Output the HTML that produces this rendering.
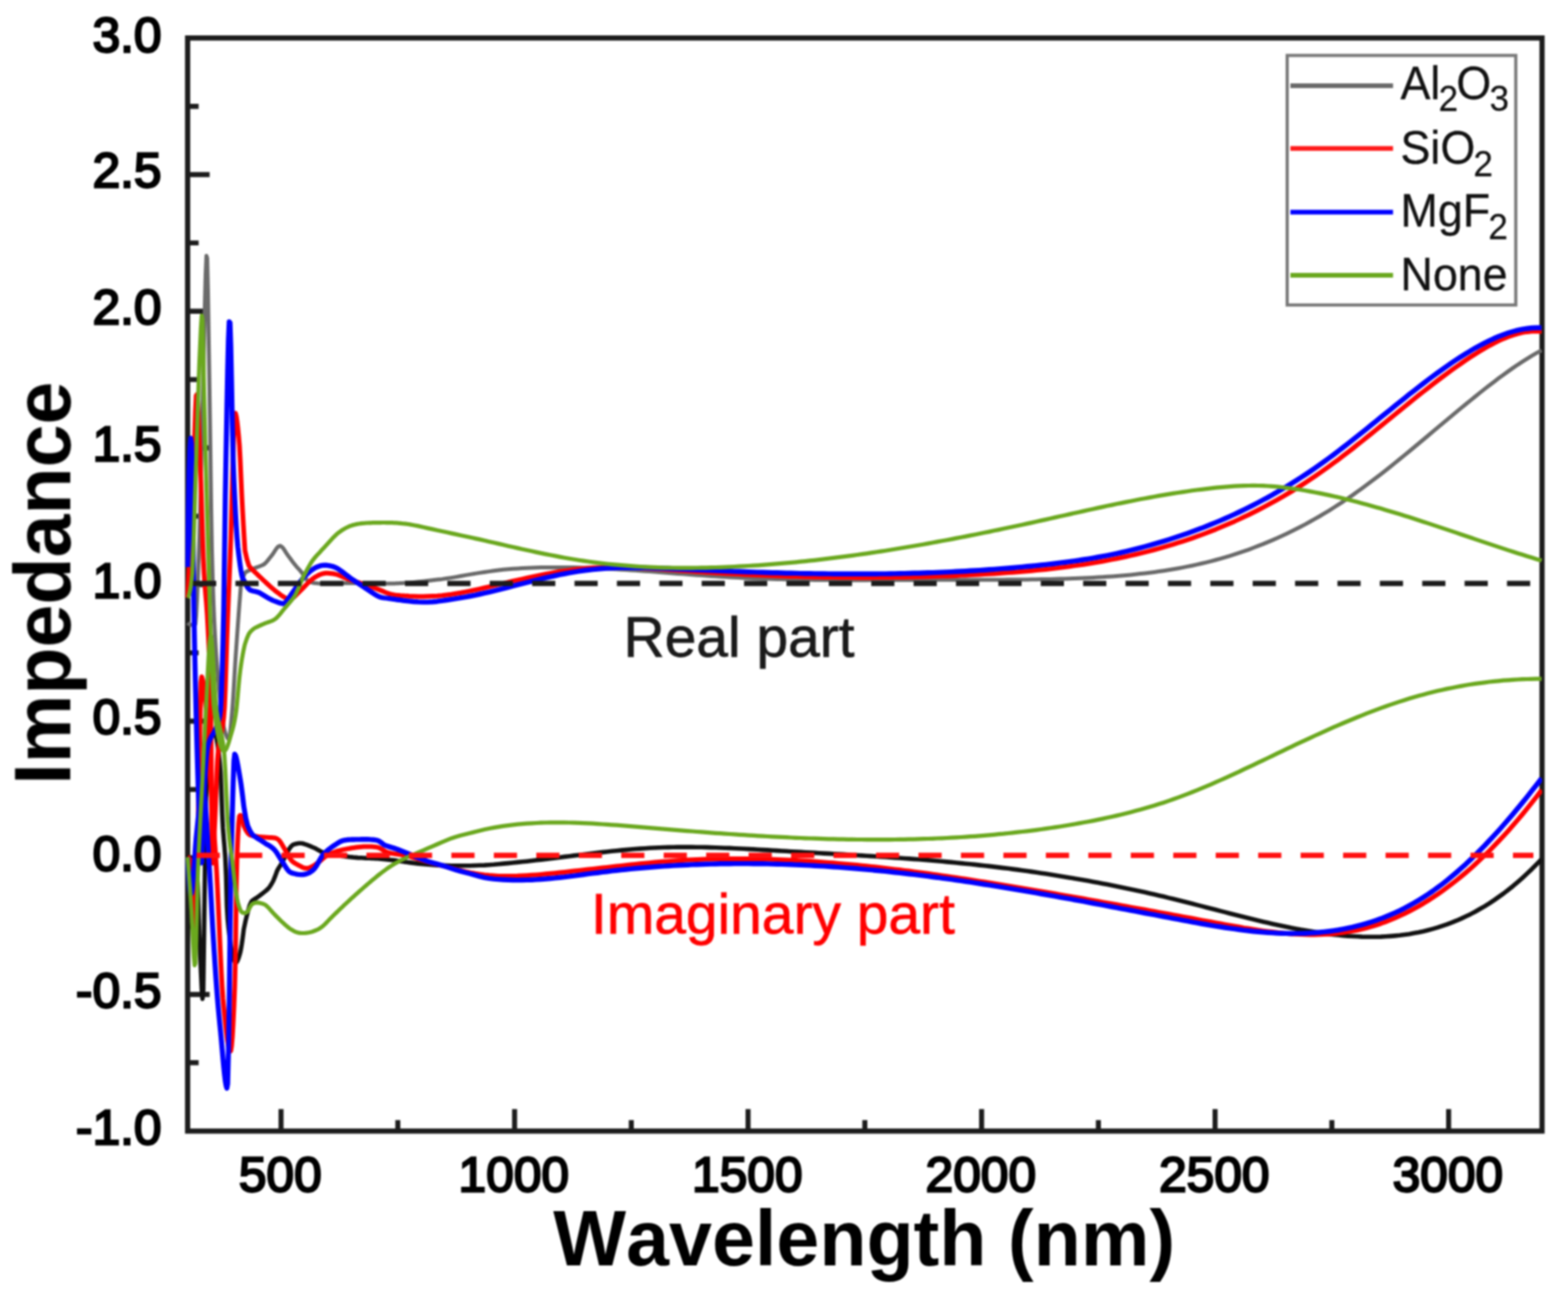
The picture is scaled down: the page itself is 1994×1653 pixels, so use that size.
<!DOCTYPE html>
<html lang="en"><head><meta charset="utf-8"><title>Impedance vs Wavelength</title>
<style>
html,body{margin:0;padding:0;background:#fff;}
body{width:1994px;height:1653px;overflow:hidden;}
svg{display:block;}
text{font-family:"Liberation Sans",Arial,Helvetica,sans-serif;}
.tk{font-weight:normal;font-size:63.2px;fill:#000;stroke:#000;stroke-width:2.8px;stroke-linejoin:miter;}
.ax{font-weight:bold;fill:#000;font-kerning:none;}
.lg{font-size:57.0px;fill:#111;stroke:#111;stroke-width:0.3px;}
</style></head><body>
<svg width="1994" height="1653" viewBox="0 0 1994 1653" role="img" aria-label="Impedance versus wavelength">
<defs><filter id="b" x="-2%" y="-2%" width="104%" height="104%" color-interpolation-filters="sRGB"><feGaussianBlur stdDeviation="1.0"/></filter></defs>
<rect width="1994" height="1653" fill="#fff"/>
<g filter="url(#b)">
<rect x="238.6" y="48.3" width="1722.4" height="1389.9" fill="none" stroke="#1c1c1c" stroke-width="6.6"/>
<path d="M238.6 135.2 h14.0 M238.6 222.0 h28.0 M238.6 308.9 h14.0 M238.6 395.8 h28.0 M238.6 482.6 h14.0 M238.6 569.5 h28.0 M238.6 656.4 h14.0 M238.6 743.2 h28.0 M238.6 830.1 h14.0 M238.6 917.0 h28.0 M238.6 1003.9 h14.0 M238.6 1090.7 h28.0 M238.6 1177.6 h14.0 M238.6 1264.5 h28.0 M238.6 1351.3 h14.0 M357.4 1438.2 v-28.0 M654.4 1438.2 v-28.0 M951.3 1438.2 v-28.0 M1248.3 1438.2 v-28.0 M1545.2 1438.2 v-28.0 M1842.2 1438.2 v-28.0 M505.9 1438.2 v-14.0 M802.8 1438.2 v-14.0 M1099.8 1438.2 v-14.0 M1396.8 1438.2 v-14.0 M1693.7 1438.2 v-14.0" stroke="#1c1c1c" stroke-width="6.4" fill="none"/>
<clipPath id="cp"><rect x="235.6" y="48.3" width="1725.4" height="1389.9"/></clipPath>
<g fill="none" stroke-linejoin="round" stroke-linecap="butt" clip-path="url(#cp)">
<path d="M238.5 792.0L239.5 792.9L240.5 793.5L241.5 794.0L242.5 794.4L243.5 794.7L244.5 794.8L245.5 794.9L246.5 795.0L247.5 795.0L248.5 793.5L249.5 782.6L250.5 763.6L251.5 739.5L252.5 713.1L253.5 685.7L254.5 649.7L255.5 607.4L256.5 562.8L257.5 519.7L258.5 479.8L259.5 433.9L260.5 387.5L261.5 348.6L262.5 325.3L263.5 328.3L264.5 370.8L265.5 435.2L266.5 500.0L267.5 568.6L268.5 643.1L269.5 700.0L270.5 736.6L271.5 766.3L272.5 790.0L273.5 809.1L274.5 825.7L275.5 840.4L276.5 853.3L277.5 864.9L278.5 875.2L279.5 884.7L280.5 893.8L281.5 902.5L282.5 910.6L283.5 917.7L284.5 923.7L285.5 928.3L286.5 931.5L287.5 934.4L288.5 936.9L289.5 938.8L290.5 939.9L291.5 939.2L292.5 933.3L293.5 923.7L294.5 912.5L295.5 901.2L296.5 887.1L297.5 870.9L298.5 853.9L299.5 837.5L300.5 822.8L301.5 808.6L302.5 794.7L303.5 781.0L304.5 767.7L305.5 754.7L306.5 742.0L309.0 734.2L311.5 728.5L314.0 726.6L316.5 725.5L319.0 724.5L321.5 723.4L324.0 722.4L326.5 721.4L329.0 720.5L331.5 719.5L334.0 718.5L336.5 717.0L339.0 714.5L341.5 711.4L344.0 708.2L346.5 705.1L349.0 701.3L351.5 697.5L354.0 694.8L356.5 694.0L359.0 695.7L361.5 699.1L364.0 703.1L366.5 706.7L369.0 710.0L371.5 713.5L374.0 716.7L376.5 719.8L379.0 722.6L381.5 725.3L384.0 728.3L386.5 732.2L389.0 736.0L391.5 738.7L394.0 739.8L396.5 740.6L399.0 741.2L401.5 741.6L404.0 741.8L406.5 741.9L409.0 741.9L411.5 741.8L414.0 741.7L416.5 741.6L419.0 741.5L421.5 741.5L424.0 741.5L426.5 741.5L429.0 741.5L431.5 741.5L434.0 741.5L436.5 741.5L439.0 741.5L441.5 741.5L444.0 741.4L446.5 741.4L449.0 741.4L451.5 741.4L454.0 741.4L456.5 741.4L459.0 741.4L461.5 741.4L464.0 741.5L466.5 741.5L469.0 741.5L471.5 741.5L474.0 741.6L476.5 741.6L479.0 741.7L481.5 741.8L484.0 741.9L486.5 741.9L489.0 742.0L491.5 742.0L494.0 742.0L496.5 742.0L499.0 742.0L501.5 741.9L504.0 741.8L506.5 741.7L509.0 741.6L511.5 741.5L514.0 741.3L516.5 741.1L519.0 741.0L520.0 740.9L526.0 740.4L532.0 739.8L538.0 739.2L544.0 738.5L550.0 737.8L556.0 737.1L562.0 736.4L568.0 735.5L574.0 734.6L580.0 733.6L586.0 732.5L592.0 731.4L598.0 730.4L604.0 729.4L610.0 728.4L616.0 727.5L622.0 726.6L628.0 725.8L634.0 725.0L640.0 724.3L646.0 723.8L652.0 723.3L658.0 722.9L664.0 722.6L670.0 722.3L676.0 722.0L682.0 721.8L688.0 721.6L694.0 721.5L700.0 721.4L706.0 721.4L712.0 721.4L718.0 721.4L724.0 721.5L730.0 721.6L736.0 721.7L742.0 721.9L748.0 722.1L754.0 722.3L760.0 722.6L766.0 722.9L772.0 723.2L778.0 723.5L784.0 723.8L790.0 724.2L796.0 724.6L802.0 724.9L808.0 725.3L814.0 725.8L820.0 726.2L826.0 726.6L832.0 727.1L838.0 727.5L844.0 728.0L850.0 728.4L856.0 728.9L862.0 729.4L868.0 729.8L874.0 730.3L880.0 730.7L886.0 731.2L892.0 731.6L898.0 732.0L904.0 732.4L910.0 732.8L916.0 733.2L922.0 733.6L928.0 733.9L934.0 734.3L940.0 734.6L946.0 734.9L952.0 735.2L958.0 735.4L964.0 735.7L970.0 735.9L976.0 736.1L982.0 736.3L988.0 736.5L994.0 736.6L1000.0 736.8L1006.0 736.9L1012.0 737.0L1018.0 737.2L1024.0 737.3L1030.0 737.3L1036.0 737.4L1042.0 737.5L1048.0 737.5L1054.0 737.6L1060.0 737.6L1066.0 737.6L1072.0 737.7L1078.0 737.7L1084.0 737.7L1090.0 737.7L1096.0 737.7L1102.0 737.7L1108.0 737.6L1114.0 737.6L1120.0 737.6L1126.0 737.6L1132.0 737.5L1138.0 737.5L1144.0 737.5L1150.0 737.5L1156.0 737.4L1162.0 737.4L1168.0 737.4L1174.0 737.4L1180.0 737.3L1186.0 737.3L1192.0 737.3L1198.0 737.3L1204.0 737.3L1210.0 737.3L1216.0 737.3L1222.0 737.3L1228.0 737.3L1234.0 737.3L1240.0 737.3L1246.0 737.3L1252.0 737.2L1258.0 737.2L1264.0 737.2L1270.0 737.2L1276.0 737.2L1282.0 737.1L1288.0 737.1L1294.0 737.0L1300.0 737.0L1306.0 736.9L1312.0 736.8L1318.0 736.7L1324.0 736.6L1330.0 736.5L1336.0 736.4L1342.0 736.2L1348.0 736.1L1354.0 735.9L1360.0 735.7L1366.0 735.5L1372.0 735.2L1378.0 735.0L1384.0 734.7L1390.0 734.4L1396.0 734.1L1402.0 733.7L1408.0 733.3L1414.0 732.9L1420.0 732.5L1426.0 732.0L1432.0 731.5L1438.0 730.9L1444.0 730.3L1450.0 729.6L1456.0 728.9L1462.0 728.2L1468.0 727.4L1474.0 726.6L1480.0 725.7L1486.0 724.8L1492.0 723.8L1498.0 722.7L1504.0 721.6L1510.0 720.4L1516.0 719.2L1522.0 717.9L1528.0 716.5L1534.0 715.1L1540.0 713.6L1546.0 712.0L1552.0 710.3L1558.0 708.6L1564.0 706.8L1570.0 704.9L1576.0 702.9L1582.0 700.9L1588.0 698.8L1594.0 696.5L1600.0 694.2L1606.0 691.9L1612.0 689.4L1618.0 686.9L1624.0 684.2L1630.0 681.5L1636.0 678.7L1642.0 675.8L1648.0 672.8L1654.0 669.7L1660.0 666.6L1666.0 663.3L1672.0 659.9L1678.0 656.5L1684.0 652.9L1690.0 649.3L1696.0 645.5L1702.0 641.7L1708.0 637.8L1714.0 633.7L1720.0 629.6L1726.0 625.3L1732.0 621.0L1738.0 616.6L1744.0 612.1L1750.0 607.5L1756.0 602.9L1762.0 598.2L1768.0 593.5L1774.0 588.6L1780.0 583.8L1786.0 578.9L1792.0 574.0L1798.0 569.0L1804.0 564.0L1810.0 559.0L1816.0 554.0L1822.0 548.9L1828.0 543.9L1834.0 538.9L1840.0 533.9L1846.0 528.9L1852.0 523.9L1858.0 518.9L1864.0 514.0L1870.0 509.1L1876.0 504.2L1882.0 499.4L1888.0 494.6L1894.0 490.0L1900.0 485.4L1906.0 480.8L1912.0 476.4L1918.0 472.1L1924.0 467.9L1930.0 463.8L1936.0 459.9L1942.0 456.1L1948.0 452.4L1954.0 448.9L1960.0 445.6L1960.4 445.3" stroke="#6a6a6a" stroke-width="5.0"/>
<path d="M238.5 1090.0L239.5 1090.1L240.5 1090.2L241.5 1090.5L242.5 1091.0L243.5 1091.6L244.5 1092.4L245.5 1093.3L246.5 1094.4L247.5 1095.8L248.5 1097.3L249.5 1099.0L250.5 1103.9L251.5 1125.4L252.5 1156.8L253.5 1187.8L254.5 1211.1L255.5 1235.0L256.5 1256.6L257.5 1270.1L258.5 1259.0L259.5 1187.4L260.5 1111.4L261.5 1030.7L262.5 1001.6L263.5 986.2L264.5 973.0L265.5 961.7L266.5 952.2L267.5 944.6L268.5 938.7L269.5 934.3L270.5 931.5L271.5 930.2L272.5 930.2L273.5 931.9L274.5 935.1L275.5 939.7L276.5 945.6L277.5 952.8L278.5 961.0L279.5 970.1L280.5 982.4L281.5 1007.2L282.5 1034.4L283.5 1053.0L284.5 1065.6L285.5 1077.0L286.5 1090.9L287.5 1114.4L288.5 1151.9L289.5 1168.5L290.5 1178.7L291.5 1187.8L292.5 1195.9L293.5 1202.9L294.5 1209.0L295.5 1214.0L296.5 1217.9L297.5 1220.9L298.5 1222.9L299.5 1223.9L300.5 1223.8L301.5 1222.7L302.5 1220.5L303.5 1217.8L304.5 1214.6L305.5 1211.2L306.5 1206.4L307.5 1200.4L308.5 1193.4L309.5 1185.6L310.0 1181.5L312.5 1169.9L315.0 1160.0L317.5 1151.2L320.0 1146.0L322.5 1144.1L325.0 1142.4L327.5 1140.8L330.0 1139.0L332.5 1137.1L335.0 1135.1L337.5 1133.1L340.0 1131.0L342.5 1128.3L345.0 1124.5L347.5 1120.0L350.0 1113.9L352.5 1107.0L355.0 1102.7L357.5 1098.9L360.0 1094.3L362.5 1089.4L365.0 1084.4L367.5 1079.8L370.0 1076.3L372.5 1074.2L375.0 1073.3L377.5 1072.7L380.0 1072.3L382.5 1072.2L385.0 1072.5L387.5 1073.3L390.0 1074.2L392.5 1075.1L395.0 1076.1L397.5 1077.2L400.0 1078.3L402.5 1079.6L405.0 1081.0L407.5 1082.4L410.0 1083.6L412.5 1084.5L415.0 1085.3L417.5 1085.9L420.0 1086.4L422.5 1086.9L425.0 1087.3L427.5 1087.6L430.0 1087.9L432.5 1088.2L435.0 1088.5L437.5 1088.8L440.0 1089.1L442.5 1089.4L445.0 1089.7L447.5 1089.9L450.0 1090.2L452.5 1090.4L455.0 1090.6L457.5 1090.7L460.0 1090.8L462.5 1091.0L465.0 1091.1L467.5 1091.2L470.0 1091.3L472.5 1091.4L475.0 1091.5L477.5 1091.6L480.0 1091.8L482.5 1092.0L485.0 1092.2L487.5 1092.4L490.0 1092.7L492.5 1092.9L495.0 1093.2L497.5 1093.5L500.0 1093.8L502.5 1094.1L505.0 1094.5L507.5 1094.8L510.0 1095.2L512.5 1095.5L515.0 1095.9L517.5 1096.3L520.0 1096.6L526.0 1097.4L532.0 1098.1L538.0 1098.7L544.0 1099.3L550.0 1099.7L556.0 1100.1L562.0 1100.4L568.0 1100.6L574.0 1100.7L580.0 1100.8L586.0 1100.8L592.0 1100.8L598.0 1100.7L604.0 1100.5L610.0 1100.3L616.0 1100.1L622.0 1099.7L628.0 1099.3L634.0 1098.7L640.0 1098.1L646.0 1097.6L652.0 1097.0L658.0 1096.4L664.0 1095.8L670.0 1095.2L676.0 1094.5L682.0 1093.8L688.0 1093.1L694.0 1092.4L700.0 1091.7L706.0 1090.9L712.0 1090.2L718.0 1089.4L724.0 1088.7L730.0 1087.9L736.0 1087.2L742.0 1086.5L748.0 1085.7L754.0 1085.0L760.0 1084.3L766.0 1083.6L772.0 1083.0L778.0 1082.3L784.0 1081.7L790.0 1081.1L796.0 1080.6L802.0 1080.0L808.0 1079.5L814.0 1079.1L820.0 1078.7L826.0 1078.3L832.0 1078.0L838.0 1077.7L844.0 1077.5L850.0 1077.4L856.0 1077.2L862.0 1077.1L868.0 1077.1L874.0 1077.1L880.0 1077.1L886.0 1077.2L892.0 1077.3L898.0 1077.4L904.0 1077.6L910.0 1077.7L916.0 1078.0L922.0 1078.2L928.0 1078.4L934.0 1078.7L940.0 1079.0L946.0 1079.3L952.0 1079.6L958.0 1079.9L964.0 1080.3L970.0 1080.6L976.0 1080.9L982.0 1081.3L988.0 1081.6L994.0 1082.0L1000.0 1082.3L1006.0 1082.7L1012.0 1083.0L1018.0 1083.4L1024.0 1083.7L1030.0 1084.0L1036.0 1084.4L1042.0 1084.7L1048.0 1085.1L1054.0 1085.4L1060.0 1085.7L1066.0 1086.1L1072.0 1086.4L1078.0 1086.8L1084.0 1087.2L1090.0 1087.5L1096.0 1087.9L1102.0 1088.3L1108.0 1088.6L1114.0 1089.0L1120.0 1089.4L1126.0 1089.8L1132.0 1090.2L1138.0 1090.6L1144.0 1091.0L1150.0 1091.5L1156.0 1091.9L1162.0 1092.4L1168.0 1092.8L1174.0 1093.3L1180.0 1093.8L1186.0 1094.3L1192.0 1094.8L1198.0 1095.3L1204.0 1095.9L1210.0 1096.4L1216.0 1097.0L1222.0 1097.6L1228.0 1098.2L1234.0 1098.8L1240.0 1099.4L1246.0 1100.1L1252.0 1100.7L1258.0 1101.4L1264.0 1102.1L1270.0 1102.9L1276.0 1103.6L1282.0 1104.3L1288.0 1105.1L1294.0 1105.9L1300.0 1106.7L1306.0 1107.6L1312.0 1108.4L1318.0 1109.3L1324.0 1110.2L1330.0 1111.1L1336.0 1112.0L1342.0 1112.9L1348.0 1113.9L1354.0 1114.9L1360.0 1115.9L1366.0 1116.9L1372.0 1117.9L1378.0 1119.0L1384.0 1120.1L1390.0 1121.2L1396.0 1122.3L1402.0 1123.4L1408.0 1124.6L1414.0 1125.8L1420.0 1127.0L1426.0 1128.2L1432.0 1129.4L1438.0 1130.7L1444.0 1132.0L1450.0 1133.3L1456.0 1134.6L1462.0 1136.0L1468.0 1137.3L1474.0 1138.7L1480.0 1140.1L1486.0 1141.6L1492.0 1143.0L1498.0 1144.5L1504.0 1146.0L1510.0 1147.5L1516.0 1149.0L1522.0 1150.6L1528.0 1152.1L1534.0 1153.7L1540.0 1155.2L1546.0 1156.8L1552.0 1158.4L1558.0 1159.9L1564.0 1161.5L1570.0 1163.0L1576.0 1164.5L1582.0 1166.0L1588.0 1167.5L1594.0 1169.0L1600.0 1170.5L1606.0 1171.9L1612.0 1173.3L1618.0 1174.7L1624.0 1176.0L1630.0 1177.3L1636.0 1178.5L1642.0 1179.8L1648.0 1180.9L1654.0 1182.1L1660.0 1183.1L1666.0 1184.1L1672.0 1185.1L1678.0 1186.0L1684.0 1186.9L1690.0 1187.7L1696.0 1188.4L1702.0 1189.0L1708.0 1189.6L1714.0 1190.1L1720.0 1190.5L1726.0 1190.8L1732.0 1191.1L1738.0 1191.2L1744.0 1191.3L1750.0 1191.2L1756.0 1191.1L1762.0 1190.8L1768.0 1190.4L1774.0 1189.9L1780.0 1189.3L1786.0 1188.5L1792.0 1187.7L1798.0 1186.6L1804.0 1185.5L1810.0 1184.2L1816.0 1182.7L1822.0 1181.1L1828.0 1179.4L1834.0 1177.4L1840.0 1175.4L1846.0 1173.1L1852.0 1170.7L1858.0 1168.1L1864.0 1165.3L1870.0 1162.4L1876.0 1159.2L1882.0 1155.8L1888.0 1152.3L1894.0 1148.6L1900.0 1144.6L1906.0 1140.4L1912.0 1136.1L1918.0 1131.5L1924.0 1126.7L1930.0 1121.6L1936.0 1116.3L1942.0 1110.8L1948.0 1105.1L1954.0 1099.1L1960.0 1092.9L1960.4 1092.4" stroke="#111" stroke-width="5.6"/>
<path d="M238.5 760.0L239.5 740.7L240.5 720.6L241.5 699.9L242.5 678.6L243.5 656.7L244.5 634.4L245.5 611.6L246.5 586.8L247.5 554.8L248.5 523.5L249.5 503.0L250.5 501.7L251.5 514.0L252.5 534.9L253.5 560.6L254.5 587.4L255.5 613.4L256.5 645.3L257.5 679.2L258.5 708.8L259.5 729.0L260.5 743.4L261.5 755.4L262.5 767.2L263.5 781.3L264.5 799.4L265.5 819.6L266.5 844.8L267.5 878.7L268.5 944.2L269.5 1073.1L270.5 1097.6L271.5 1082.1L272.5 1060.3L273.5 1039.4L274.5 1014.2L275.5 988.2L276.5 967.0L277.5 955.0L278.5 946.9L279.5 940.9L280.5 936.2L281.5 931.8L282.5 926.9L283.5 920.7L284.5 912.3L285.5 899.5L286.5 875.6L287.5 845.0L288.5 813.9L289.5 787.3L290.5 762.6L291.5 738.2L292.5 713.1L293.5 685.3L294.5 650.1L295.5 611.4L296.5 574.6L297.5 544.8L298.5 527.4L299.5 525.5L300.5 529.2L301.5 535.9L302.5 544.7L303.5 554.7L304.5 566.5L305.5 585.0L306.5 607.6L307.5 630.1L308.5 649.1L309.5 666.8L310.5 683.8L311.5 700.0L314.0 711.0L316.5 719.1L319.0 722.5L321.5 724.9L324.0 727.3L326.5 729.7L329.0 732.1L331.5 734.4L334.0 736.8L336.5 739.1L339.0 741.5L341.5 743.8L344.0 746.1L346.5 748.2L349.0 750.3L351.5 752.3L354.0 754.2L356.5 756.1L359.0 757.9L361.5 759.3L364.0 760.6L366.5 761.5L369.0 761.6L371.5 760.8L374.0 759.0L376.5 756.6L379.0 754.2L381.5 751.7L384.0 749.1L386.5 746.6L389.0 744.0L391.5 741.5L394.0 739.0L396.5 736.9L399.0 735.0L401.5 733.4L404.0 732.0L406.5 730.8L409.0 729.9L411.5 729.2L414.0 728.8L416.5 728.7L419.0 728.9L421.5 729.2L424.0 729.5L426.5 730.1L429.0 730.7L431.5 731.6L434.0 732.7L436.5 733.8L439.0 734.9L441.5 735.9L444.0 736.7L446.5 737.6L449.0 738.4L451.5 739.2L454.0 740.0L456.5 740.8L459.0 741.6L461.5 742.4L464.0 743.3L466.5 744.2L469.0 745.1L471.5 745.9L474.0 746.8L476.5 747.7L479.0 748.6L481.5 749.6L484.0 750.6L486.5 751.6L489.0 752.7L491.5 753.7L494.0 754.6L496.5 755.3L499.0 755.9L501.5 756.4L504.0 756.8L506.5 757.0L509.0 757.3L511.5 757.4L514.0 757.6L516.5 757.7L519.0 757.8L520.0 757.9L526.0 758.2L532.0 758.4L538.0 758.5L544.0 758.3L550.0 758.0L556.0 757.7L562.0 757.2L568.0 756.5L574.0 755.8L580.0 754.8L586.0 753.8L592.0 752.6L598.0 751.4L604.0 750.2L610.0 748.9L616.0 747.5L622.0 746.1L628.0 744.7L634.0 743.2L640.0 741.8L646.0 740.4L652.0 739.0L658.0 737.7L664.0 736.3L670.0 735.0L676.0 733.7L682.0 732.4L688.0 731.2L694.0 730.0L700.0 728.9L706.0 727.8L712.0 726.8L718.0 725.9L724.0 725.1L730.0 724.3L736.0 723.6L742.0 723.0L748.0 722.5L754.0 722.1L760.0 721.8L766.0 721.5L772.0 721.4L778.0 721.3L784.0 721.3L790.0 721.4L796.0 721.5L802.0 721.7L808.0 721.9L814.0 722.2L820.0 722.5L826.0 722.8L832.0 723.2L838.0 723.6L844.0 724.0L850.0 724.4L856.0 724.8L862.0 725.3L868.0 725.7L874.0 726.1L880.0 726.5L886.0 726.9L892.0 727.3L898.0 727.7L904.0 728.1L910.0 728.5L916.0 728.8L922.0 729.2L928.0 729.5L934.0 729.8L940.0 730.1L946.0 730.4L952.0 730.7L958.0 731.0L964.0 731.3L970.0 731.6L976.0 731.8L982.0 732.0L988.0 732.3L994.0 732.5L1000.0 732.7L1006.0 732.9L1012.0 733.1L1018.0 733.2L1024.0 733.4L1030.0 733.5L1036.0 733.7L1042.0 733.8L1048.0 733.9L1054.0 734.0L1060.0 734.1L1066.0 734.2L1072.0 734.2L1078.0 734.3L1084.0 734.3L1090.0 734.4L1096.0 734.4L1102.0 734.4L1108.0 734.4L1114.0 734.3L1120.0 734.3L1126.0 734.3L1132.0 734.2L1138.0 734.1L1144.0 734.0L1150.0 733.9L1156.0 733.8L1162.0 733.7L1168.0 733.5L1174.0 733.4L1180.0 733.2L1186.0 733.0L1192.0 732.8L1198.0 732.6L1204.0 732.4L1210.0 732.2L1216.0 731.9L1222.0 731.6L1228.0 731.4L1234.0 731.1L1240.0 730.8L1246.0 730.4L1252.0 730.1L1258.0 729.7L1264.0 729.4L1270.0 729.0L1276.0 728.6L1282.0 728.1L1288.0 727.7L1294.0 727.2L1300.0 726.7L1306.0 726.2L1312.0 725.7L1318.0 725.1L1324.0 724.5L1330.0 723.9L1336.0 723.2L1342.0 722.5L1348.0 721.8L1354.0 721.0L1360.0 720.2L1366.0 719.4L1372.0 718.6L1378.0 717.7L1384.0 716.7L1390.0 715.7L1396.0 714.7L1402.0 713.7L1408.0 712.6L1414.0 711.4L1420.0 710.2L1426.0 709.0L1432.0 707.7L1438.0 706.4L1444.0 705.0L1450.0 703.6L1456.0 702.1L1462.0 700.6L1468.0 699.0L1474.0 697.4L1480.0 695.7L1486.0 693.9L1492.0 692.1L1498.0 690.2L1504.0 688.3L1510.0 686.3L1516.0 684.3L1522.0 682.2L1528.0 680.0L1534.0 677.7L1540.0 675.4L1546.0 673.1L1552.0 670.6L1558.0 668.1L1564.0 665.5L1570.0 662.9L1576.0 660.1L1582.0 657.3L1588.0 654.5L1594.0 651.5L1600.0 648.5L1606.0 645.4L1612.0 642.2L1618.0 638.9L1624.0 635.6L1630.0 632.2L1636.0 628.6L1642.0 625.1L1648.0 621.4L1654.0 617.6L1660.0 613.7L1666.0 609.8L1672.0 605.8L1678.0 601.6L1684.0 597.4L1690.0 593.1L1696.0 588.7L1702.0 584.3L1708.0 579.7L1714.0 575.1L1720.0 570.5L1726.0 565.7L1732.0 561.0L1738.0 556.2L1744.0 551.4L1750.0 546.5L1756.0 541.6L1762.0 536.7L1768.0 531.9L1774.0 527.0L1780.0 522.1L1786.0 517.2L1792.0 512.4L1798.0 507.5L1804.0 502.7L1810.0 498.0L1816.0 493.3L1822.0 488.6L1828.0 484.0L1834.0 479.5L1840.0 475.1L1846.0 470.7L1852.0 466.4L1858.0 462.2L1864.0 458.1L1870.0 454.1L1876.0 450.2L1882.0 446.5L1888.0 442.9L1894.0 439.5L1900.0 436.3L1906.0 433.3L1912.0 430.6L1918.0 428.2L1924.0 426.1L1930.0 424.3L1936.0 422.9L1942.0 421.9L1948.0 421.3L1954.0 421.1L1960.0 421.4L1960.4 421.4" stroke="#ff0000" stroke-width="6.0"/>
<path d="M238.5 1090.0L239.5 1090.4L240.5 1091.4L241.5 1093.1L242.5 1095.4L243.5 1098.3L244.5 1105.0L245.5 1128.9L246.5 1159.3L247.5 1181.5L248.5 1181.7L249.5 1158.2L250.5 1118.5L251.5 1070.6L252.5 1022.1L253.5 975.2L254.5 914.4L255.5 867.5L256.5 860.4L257.5 863.6L258.5 869.3L259.5 876.9L260.5 885.7L261.5 895.2L262.5 905.4L263.5 919.3L264.5 936.4L265.5 955.1L266.5 974.0L267.5 991.9L268.5 1007.6L269.5 1021.9L270.5 1035.7L271.5 1049.2L272.5 1062.8L273.5 1076.9L274.5 1092.0L275.5 1108.6L276.5 1127.9L277.5 1149.2L278.5 1171.7L279.5 1194.5L280.5 1216.5L281.5 1236.9L282.5 1254.8L283.5 1269.3L284.5 1280.1L285.5 1290.2L286.5 1300.0L287.5 1309.1L288.5 1317.4L289.5 1324.6L290.5 1330.4L291.5 1334.5L292.5 1336.7L293.5 1336.2L294.5 1330.1L295.5 1318.3L296.5 1301.4L297.5 1279.9L298.5 1254.2L299.5 1212.5L300.5 1126.9L301.5 1086.7L302.5 1063.7L303.5 1047.0L304.5 1037.9L305.5 1036.7L306.5 1037.1L307.5 1038.4L308.5 1041.3L309.5 1046.4L310.0 1050.0L312.5 1055.2L315.0 1059.3L317.5 1061.6L320.0 1062.3L322.5 1062.9L325.0 1063.3L327.5 1063.7L330.0 1064.0L332.5 1064.2L335.0 1064.4L337.5 1064.6L340.0 1064.7L342.5 1064.9L345.0 1065.1L347.5 1065.3L350.0 1065.6L352.5 1066.5L355.0 1068.5L357.5 1072.0L360.0 1076.2L362.5 1080.6L365.0 1085.3L367.5 1089.8L370.0 1093.3L372.5 1095.8L375.0 1097.6L377.5 1099.0L380.0 1100.3L382.5 1101.7L385.0 1103.0L387.5 1103.8L390.0 1104.1L392.5 1103.6L395.0 1102.7L397.5 1101.5L400.0 1100.0L402.5 1098.3L405.0 1096.5L407.5 1094.4L410.0 1092.2L412.5 1090.1L415.0 1088.4L417.5 1087.0L420.0 1085.7L422.5 1084.6L425.0 1083.6L427.5 1082.7L430.0 1082.0L432.5 1081.3L435.0 1080.7L437.5 1080.1L440.0 1079.6L442.5 1079.1L445.0 1078.7L447.5 1078.3L450.0 1077.9L452.5 1077.6L455.0 1077.3L457.5 1077.0L460.0 1076.8L462.5 1076.6L465.0 1076.5L467.5 1076.4L470.0 1076.5L472.5 1076.6L475.0 1076.8L477.5 1077.0L480.0 1077.4L482.5 1078.2L485.0 1079.5L487.5 1081.1L490.0 1082.6L492.5 1083.8L495.0 1084.5L497.5 1085.0L500.0 1085.4L502.5 1085.8L505.0 1086.1L507.5 1086.4L510.0 1086.8L512.5 1087.2L515.0 1087.6L517.5 1088.2L520.0 1088.8L526.0 1090.5L532.0 1092.3L538.0 1094.1L544.0 1095.8L550.0 1097.6L556.0 1099.2L562.0 1100.7L568.0 1102.2L574.0 1103.8L580.0 1105.4L586.0 1106.9L592.0 1108.3L598.0 1109.6L604.0 1110.7L610.0 1111.6L616.0 1112.5L622.0 1113.1L628.0 1113.5L634.0 1113.9L640.0 1114.0L646.0 1114.0L652.0 1113.9L658.0 1113.8L664.0 1113.5L670.0 1113.2L676.0 1112.8L682.0 1112.4L688.0 1111.9L694.0 1111.3L700.0 1110.8L706.0 1110.2L712.0 1109.5L718.0 1108.9L724.0 1108.3L730.0 1107.6L736.0 1106.9L742.0 1106.3L748.0 1105.6L754.0 1104.9L760.0 1104.2L766.0 1103.5L772.0 1102.9L778.0 1102.2L784.0 1101.5L790.0 1100.9L796.0 1100.2L802.0 1099.6L808.0 1098.9L814.0 1098.3L820.0 1097.8L826.0 1097.2L832.0 1096.6L838.0 1096.1L844.0 1095.6L850.0 1095.2L856.0 1094.7L862.0 1094.3L868.0 1094.0L874.0 1093.6L880.0 1093.3L886.0 1093.1L892.0 1092.8L898.0 1092.6L904.0 1092.5L910.0 1092.3L916.0 1092.2L922.0 1092.1L928.0 1092.0L934.0 1092.0L940.0 1092.0L946.0 1092.0L952.0 1092.1L958.0 1092.2L964.0 1092.3L970.0 1092.4L976.0 1092.6L982.0 1092.8L988.0 1093.0L994.0 1093.2L1000.0 1093.5L1006.0 1093.8L1012.0 1094.1L1018.0 1094.4L1024.0 1094.8L1030.0 1095.1L1036.0 1095.5L1042.0 1096.0L1048.0 1096.4L1054.0 1096.9L1060.0 1097.3L1066.0 1097.9L1072.0 1098.4L1078.0 1098.9L1084.0 1099.5L1090.0 1100.1L1096.0 1100.7L1102.0 1101.3L1108.0 1101.9L1114.0 1102.6L1120.0 1103.3L1126.0 1103.9L1132.0 1104.7L1138.0 1105.4L1144.0 1106.1L1150.0 1106.9L1156.0 1107.6L1162.0 1108.4L1168.0 1109.2L1174.0 1110.0L1180.0 1110.8L1186.0 1111.7L1192.0 1112.5L1198.0 1113.4L1204.0 1114.2L1210.0 1115.1L1216.0 1116.0L1222.0 1116.9L1228.0 1117.8L1234.0 1118.7L1240.0 1119.7L1246.0 1120.6L1252.0 1121.5L1258.0 1122.5L1264.0 1123.5L1270.0 1124.4L1276.0 1125.4L1282.0 1126.4L1288.0 1127.4L1294.0 1128.4L1300.0 1129.4L1306.0 1130.4L1312.0 1131.4L1318.0 1132.4L1324.0 1133.4L1330.0 1134.5L1336.0 1135.5L1342.0 1136.5L1348.0 1137.6L1354.0 1138.6L1360.0 1139.7L1366.0 1140.7L1372.0 1141.8L1378.0 1142.8L1384.0 1143.9L1390.0 1144.9L1396.0 1146.0L1402.0 1147.1L1408.0 1148.2L1414.0 1149.2L1420.0 1150.3L1426.0 1151.4L1432.0 1152.5L1438.0 1153.6L1444.0 1154.6L1450.0 1155.7L1456.0 1156.8L1462.0 1157.9L1468.0 1159.0L1474.0 1160.1L1480.0 1161.2L1486.0 1162.3L1492.0 1163.4L1498.0 1164.5L1504.0 1165.6L1510.0 1166.7L1516.0 1167.8L1522.0 1169.0L1528.0 1170.1L1534.0 1171.2L1540.0 1172.3L1546.0 1173.4L1552.0 1174.5L1558.0 1175.6L1564.0 1176.7L1570.0 1177.8L1576.0 1178.8L1582.0 1179.9L1588.0 1180.8L1594.0 1181.8L1600.0 1182.7L1606.0 1183.6L1612.0 1184.4L1618.0 1185.1L1624.0 1185.8L1630.0 1186.4L1636.0 1187.0L1642.0 1187.5L1648.0 1187.8L1654.0 1188.1L1660.0 1188.3L1666.0 1188.4L1672.0 1188.4L1678.0 1188.3L1684.0 1188.1L1690.0 1187.7L1696.0 1187.2L1702.0 1186.6L1708.0 1185.8L1714.0 1184.9L1720.0 1183.9L1726.0 1182.7L1732.0 1181.4L1738.0 1179.8L1744.0 1178.2L1750.0 1176.3L1756.0 1174.3L1762.0 1172.1L1768.0 1169.8L1774.0 1167.3L1780.0 1164.6L1786.0 1161.8L1792.0 1158.8L1798.0 1155.6L1804.0 1152.3L1810.0 1148.8L1816.0 1145.1L1822.0 1141.3L1828.0 1137.3L1834.0 1133.1L1840.0 1128.7L1846.0 1124.2L1852.0 1119.5L1858.0 1114.6L1864.0 1109.6L1870.0 1104.4L1876.0 1099.0L1882.0 1093.4L1888.0 1087.7L1894.0 1081.8L1900.0 1075.7L1906.0 1069.4L1912.0 1063.0L1918.0 1056.4L1924.0 1049.6L1930.0 1042.6L1936.0 1035.5L1942.0 1028.2L1948.0 1020.7L1954.0 1013.0L1960.0 1005.1L1960.4 1004.6" stroke="#ff0000" stroke-width="6.0"/>
<path d="M238.5 721.0L239.5 646.7L240.5 597.6L241.5 569.3L242.5 557.3L243.5 563.8L244.5 616.1L245.5 694.3L246.5 770.9L247.5 823.9L248.5 869.4L249.5 911.4L250.5 949.7L251.5 984.2L252.5 1016.0L253.5 1049.5L254.5 1079.1L255.5 1097.4L256.5 1096.6L257.5 1074.2L258.5 1041.4L259.5 1010.7L260.5 991.7L261.5 975.9L262.5 962.5L263.5 952.9L264.5 947.9L265.5 944.4L266.5 941.5L267.5 939.2L268.5 937.2L269.5 935.5L270.5 933.9L271.5 932.4L272.5 930.7L273.5 928.7L274.5 926.4L275.5 923.6L276.5 921.1L277.5 918.3L278.5 914.8L279.5 910.0L280.5 902.0L281.5 883.0L282.5 854.4L283.5 819.2L284.5 775.1L285.5 704.2L286.5 629.5L287.5 574.3L288.5 521.2L289.5 471.7L290.5 432.1L291.5 409.2L292.5 410.4L293.5 440.5L294.5 488.2L295.5 540.7L296.5 585.0L297.5 611.6L298.5 633.2L299.5 652.7L300.5 669.7L301.5 684.1L302.5 695.5L303.5 704.1L304.5 712.1L305.5 719.5L306.5 726.0L307.5 731.4L308.5 735.2L309.5 737.3L310.0 737.6L312.5 742.9L315.0 747.2L317.5 749.8L320.0 751.0L322.5 751.7L325.0 752.2L327.5 752.8L330.0 753.8L332.5 755.3L335.0 756.8L337.5 758.3L340.0 759.8L342.5 761.2L345.0 762.5L347.5 763.6L350.0 764.6L352.5 765.5L355.0 766.4L357.5 767.2L360.0 767.6L362.5 766.6L365.0 763.6L367.5 760.0L370.0 756.4L372.5 752.9L375.0 749.3L377.5 745.7L380.0 742.1L382.5 738.7L385.0 735.6L387.5 732.9L390.0 730.4L392.5 728.1L395.0 725.9L397.5 724.1L400.0 722.5L402.5 721.2L405.0 720.2L407.5 719.4L410.0 718.9L412.5 718.6L415.0 718.7L417.5 719.1L420.0 719.5L422.5 720.1L425.0 720.9L427.5 722.0L430.0 723.4L432.5 725.1L435.0 726.9L437.5 728.8L440.0 730.7L442.5 732.6L445.0 734.5L447.5 736.3L450.0 738.0L452.5 739.7L455.0 741.3L457.5 743.0L460.0 744.7L462.5 746.3L465.0 748.0L467.5 749.7L470.0 751.3L472.5 753.0L475.0 754.7L477.5 756.2L480.0 757.7L482.5 758.9L485.0 759.6L487.5 760.1L490.0 760.4L492.5 760.6L495.0 761.0L497.5 761.4L500.0 761.7L502.5 762.1L505.0 762.5L507.5 762.8L510.0 763.1L512.5 763.5L515.0 763.8L517.5 764.1L520.0 764.4L526.0 765.0L532.0 765.4L538.0 765.6L544.0 765.6L550.0 765.3L556.0 764.7L562.0 763.9L568.0 763.0L574.0 762.1L580.0 761.2L586.0 760.2L592.0 759.2L598.0 758.0L604.0 756.8L610.0 755.5L616.0 754.2L622.0 752.8L628.0 751.3L634.0 749.8L640.0 748.3L646.0 746.8L652.0 745.2L658.0 743.7L664.0 742.1L670.0 740.6L676.0 739.1L682.0 737.6L688.0 736.1L694.0 734.7L700.0 733.3L706.0 732.0L712.0 730.7L718.0 729.5L724.0 728.4L730.0 727.4L736.0 726.4L742.0 725.5L748.0 724.8L754.0 724.1L760.0 723.5L766.0 723.0L772.0 722.6L778.0 722.3L784.0 722.1L790.0 721.9L796.0 721.8L802.0 721.8L808.0 721.8L814.0 721.8L820.0 721.9L826.0 722.1L832.0 722.3L838.0 722.5L844.0 722.7L850.0 723.0L856.0 723.2L862.0 723.5L868.0 723.8L874.0 724.1L880.0 724.3L886.0 724.6L892.0 724.9L898.0 725.1L904.0 725.4L910.0 725.6L916.0 725.9L922.0 726.1L928.0 726.3L934.0 726.6L940.0 726.8L946.0 727.0L952.0 727.2L958.0 727.4L964.0 727.6L970.0 727.8L976.0 728.0L982.0 728.2L988.0 728.3L994.0 728.5L1000.0 728.7L1006.0 728.8L1012.0 728.9L1018.0 729.1L1024.0 729.2L1030.0 729.3L1036.0 729.4L1042.0 729.5L1048.0 729.5L1054.0 729.6L1060.0 729.7L1066.0 729.7L1072.0 729.8L1078.0 729.8L1084.0 729.8L1090.0 729.8L1096.0 729.8L1102.0 729.8L1108.0 729.7L1114.0 729.7L1120.0 729.6L1126.0 729.6L1132.0 729.5L1138.0 729.4L1144.0 729.3L1150.0 729.1L1156.0 729.0L1162.0 728.8L1168.0 728.7L1174.0 728.5L1180.0 728.3L1186.0 728.1L1192.0 727.9L1198.0 727.6L1204.0 727.4L1210.0 727.1L1216.0 726.8L1222.0 726.5L1228.0 726.2L1234.0 725.8L1240.0 725.5L1246.0 725.1L1252.0 724.7L1258.0 724.3L1264.0 723.9L1270.0 723.4L1276.0 722.9L1282.0 722.5L1288.0 722.0L1294.0 721.4L1300.0 720.9L1306.0 720.3L1312.0 719.7L1318.0 719.1L1324.0 718.5L1330.0 717.9L1336.0 717.2L1342.0 716.5L1348.0 715.7L1354.0 715.0L1360.0 714.2L1366.0 713.3L1372.0 712.5L1378.0 711.5L1384.0 710.6L1390.0 709.6L1396.0 708.5L1402.0 707.4L1408.0 706.3L1414.0 705.1L1420.0 703.8L1426.0 702.5L1432.0 701.1L1438.0 699.7L1444.0 698.2L1450.0 696.6L1456.0 695.0L1462.0 693.4L1468.0 691.7L1474.0 689.9L1480.0 688.1L1486.0 686.2L1492.0 684.3L1498.0 682.3L1504.0 680.3L1510.0 678.2L1516.0 676.0L1522.0 673.8L1528.0 671.6L1534.0 669.2L1540.0 666.8L1546.0 664.4L1552.0 661.9L1558.0 659.3L1564.0 656.6L1570.0 653.9L1576.0 651.0L1582.0 648.1L1588.0 645.2L1594.0 642.1L1600.0 639.0L1606.0 635.8L1612.0 632.6L1618.0 629.2L1624.0 625.8L1630.0 622.3L1636.0 618.7L1642.0 615.0L1648.0 611.2L1654.0 607.4L1660.0 603.5L1666.0 599.5L1672.0 595.4L1678.0 591.2L1684.0 586.9L1690.0 582.5L1696.0 578.1L1702.0 573.5L1708.0 568.9L1714.0 564.3L1720.0 559.6L1726.0 554.8L1732.0 550.0L1738.0 545.2L1744.0 540.3L1750.0 535.5L1756.0 530.6L1762.0 525.7L1768.0 520.9L1774.0 516.0L1780.0 511.2L1786.0 506.4L1792.0 501.6L1798.0 496.9L1804.0 492.2L1810.0 487.6L1816.0 483.0L1822.0 478.5L1828.0 474.1L1834.0 469.8L1840.0 465.6L1846.0 461.4L1852.0 457.4L1858.0 453.5L1864.0 449.8L1870.0 446.1L1876.0 442.6L1882.0 439.3L1888.0 436.1L1894.0 433.1L1900.0 430.3L1906.0 427.7L1912.0 425.4L1918.0 423.3L1924.0 421.5L1930.0 419.9L1936.0 418.6L1942.0 417.7L1948.0 417.0L1954.0 416.8L1960.0 416.8L1960.4 416.8" stroke="#0000ff" stroke-width="6.4"/>
<path d="M238.5 1090.0L239.5 1107.3L240.5 1121.2L241.5 1131.1L242.5 1136.3L243.5 1136.2L244.5 1130.2L245.5 1119.7L246.5 1106.3L247.5 1091.7L248.5 1077.4L249.5 1065.0L250.5 1055.4L251.5 1045.6L252.5 1035.5L253.5 1025.7L254.5 1016.7L255.5 1009.1L256.5 1003.5L257.5 1000.4L258.5 1000.7L259.5 1005.8L260.5 1015.2L261.5 1027.9L262.5 1042.9L263.5 1059.3L264.5 1076.1L265.5 1092.4L266.5 1107.7L267.5 1124.8L268.5 1143.1L269.5 1161.8L270.5 1179.6L271.5 1196.1L272.5 1212.1L273.5 1227.7L274.5 1242.6L275.5 1256.5L276.5 1269.2L277.5 1280.9L278.5 1291.8L279.5 1302.1L280.5 1312.0L281.5 1322.9L282.5 1334.3L283.5 1345.7L284.5 1356.5L285.5 1366.3L286.5 1374.4L287.5 1380.3L288.5 1383.6L289.5 1378.2L290.5 1338.1L291.5 1274.9L292.5 1187.8L293.5 1108.6L294.5 1067.3L295.5 1032.0L296.5 995.3L297.5 967.4L298.5 959.0L299.5 960.5L300.5 963.6L301.5 968.0L302.5 973.3L303.5 979.1L304.5 985.0L305.5 990.7L306.5 997.1L307.5 1004.4L308.5 1012.2L309.5 1020.6L310.0 1025.0L312.5 1040.1L315.0 1050.0L317.5 1055.6L320.0 1060.0L322.5 1062.8L325.0 1064.4L327.5 1066.0L330.0 1067.6L332.5 1069.1L335.0 1070.7L337.5 1072.4L340.0 1073.9L342.5 1075.3L345.0 1077.0L347.5 1079.0L350.0 1081.7L352.5 1085.2L355.0 1089.2L357.5 1093.2L360.0 1097.1L362.5 1101.2L365.0 1105.0L367.5 1108.0L370.0 1109.6L372.5 1110.4L375.0 1111.0L377.5 1111.6L380.0 1111.9L382.5 1112.1L385.0 1112.0L387.5 1111.7L390.0 1111.1L392.5 1110.1L395.0 1108.7L397.5 1106.9L400.0 1104.5L402.5 1100.9L405.0 1096.4L407.5 1091.8L410.0 1087.7L412.5 1084.9L415.0 1082.7L417.5 1080.5L420.0 1078.5L422.5 1076.7L425.0 1075.0L427.5 1073.4L430.0 1071.8L432.5 1070.3L435.0 1069.2L437.5 1068.5L440.0 1068.1L442.5 1067.8L445.0 1067.6L447.5 1067.5L450.0 1067.5L452.5 1067.4L455.0 1067.4L457.5 1067.4L460.0 1067.3L462.5 1067.3L465.0 1067.3L467.5 1067.3L470.0 1067.4L472.5 1067.6L475.0 1067.8L477.5 1068.1L480.0 1068.6L482.5 1069.7L485.0 1071.6L487.5 1073.6L490.0 1075.0L492.5 1075.8L495.0 1076.6L497.5 1077.4L500.0 1078.1L502.5 1078.9L505.0 1079.8L507.5 1080.8L510.0 1081.8L512.5 1082.8L515.0 1083.8L517.5 1084.8L520.0 1085.8L526.0 1088.2L532.0 1090.7L538.0 1093.0L544.0 1095.2L550.0 1097.0L556.0 1098.7L562.0 1100.4L568.0 1102.3L574.0 1104.3L580.0 1106.2L586.0 1107.9L592.0 1109.5L598.0 1111.0L604.0 1112.7L610.0 1114.4L616.0 1115.8L622.0 1116.8L628.0 1117.6L634.0 1118.1L640.0 1118.5L646.0 1118.8L652.0 1119.0L658.0 1119.1L664.0 1119.0L670.0 1118.9L676.0 1118.7L682.0 1118.4L688.0 1118.0L694.0 1117.5L700.0 1117.0L706.0 1116.4L712.0 1115.7L718.0 1115.1L724.0 1114.3L730.0 1113.6L736.0 1112.8L742.0 1112.0L748.0 1111.2L754.0 1110.4L760.0 1109.7L766.0 1108.9L772.0 1108.2L778.0 1107.4L784.0 1106.8L790.0 1106.1L796.0 1105.5L802.0 1104.9L808.0 1104.3L814.0 1103.7L820.0 1103.2L826.0 1102.7L832.0 1102.2L838.0 1101.8L844.0 1101.4L850.0 1101.0L856.0 1100.6L862.0 1100.3L868.0 1100.0L874.0 1099.7L880.0 1099.4L886.0 1099.2L892.0 1099.0L898.0 1098.8L904.0 1098.6L910.0 1098.5L916.0 1098.3L922.0 1098.2L928.0 1098.2L934.0 1098.1L940.0 1098.1L946.0 1098.1L952.0 1098.1L958.0 1098.2L964.0 1098.2L970.0 1098.3L976.0 1098.4L982.0 1098.6L988.0 1098.7L994.0 1098.9L1000.0 1099.1L1006.0 1099.3L1012.0 1099.6L1018.0 1099.8L1024.0 1100.1L1030.0 1100.4L1036.0 1100.7L1042.0 1101.1L1048.0 1101.4L1054.0 1101.8L1060.0 1102.2L1066.0 1102.6L1072.0 1103.1L1078.0 1103.6L1084.0 1104.0L1090.0 1104.5L1096.0 1105.1L1102.0 1105.6L1108.0 1106.1L1114.0 1106.7L1120.0 1107.3L1126.0 1107.9L1132.0 1108.5L1138.0 1109.2L1144.0 1109.9L1150.0 1110.5L1156.0 1111.2L1162.0 1111.9L1168.0 1112.7L1174.0 1113.4L1180.0 1114.2L1186.0 1115.0L1192.0 1115.7L1198.0 1116.6L1204.0 1117.4L1210.0 1118.2L1216.0 1119.1L1222.0 1119.9L1228.0 1120.8L1234.0 1121.7L1240.0 1122.6L1246.0 1123.5L1252.0 1124.5L1258.0 1125.4L1264.0 1126.4L1270.0 1127.3L1276.0 1128.3L1282.0 1129.3L1288.0 1130.3L1294.0 1131.3L1300.0 1132.3L1306.0 1133.3L1312.0 1134.4L1318.0 1135.4L1324.0 1136.5L1330.0 1137.5L1336.0 1138.6L1342.0 1139.7L1348.0 1140.8L1354.0 1141.8L1360.0 1142.9L1366.0 1144.0L1372.0 1145.1L1378.0 1146.2L1384.0 1147.4L1390.0 1148.5L1396.0 1149.6L1402.0 1150.7L1408.0 1151.9L1414.0 1153.0L1420.0 1154.1L1426.0 1155.3L1432.0 1156.4L1438.0 1157.5L1444.0 1158.7L1450.0 1159.8L1456.0 1161.0L1462.0 1162.1L1468.0 1163.2L1474.0 1164.4L1480.0 1165.5L1486.0 1166.7L1492.0 1167.8L1498.0 1168.9L1504.0 1170.1L1510.0 1171.2L1516.0 1172.3L1522.0 1173.4L1528.0 1174.5L1534.0 1175.5L1540.0 1176.6L1546.0 1177.6L1552.0 1178.5L1558.0 1179.5L1564.0 1180.4L1570.0 1181.2L1576.0 1182.0L1582.0 1182.8L1588.0 1183.5L1594.0 1184.2L1600.0 1184.7L1606.0 1185.3L1612.0 1185.7L1618.0 1186.1L1624.0 1186.5L1630.0 1186.7L1636.0 1186.9L1642.0 1187.0L1648.0 1186.9L1654.0 1186.9L1660.0 1186.7L1666.0 1186.4L1672.0 1186.0L1678.0 1185.5L1684.0 1184.9L1690.0 1184.2L1696.0 1183.4L1702.0 1182.5L1708.0 1181.4L1714.0 1180.2L1720.0 1178.9L1726.0 1177.4L1732.0 1175.8L1738.0 1174.1L1744.0 1172.2L1750.0 1170.2L1756.0 1168.1L1762.0 1165.7L1768.0 1163.2L1774.0 1160.6L1780.0 1157.8L1786.0 1154.8L1792.0 1151.6L1798.0 1148.3L1804.0 1144.7L1810.0 1141.0L1816.0 1137.1L1822.0 1133.0L1828.0 1128.7L1834.0 1124.2L1840.0 1119.5L1846.0 1114.6L1852.0 1109.5L1858.0 1104.2L1864.0 1098.8L1870.0 1093.1L1876.0 1087.3L1882.0 1081.3L1888.0 1075.2L1894.0 1068.8L1900.0 1062.4L1906.0 1055.8L1912.0 1049.0L1918.0 1042.1L1924.0 1035.1L1930.0 1027.9L1936.0 1020.6L1942.0 1013.2L1948.0 1005.6L1954.0 998.0L1960.0 990.2L1960.4 989.7" stroke="#0000ff" stroke-width="6.4"/>
<path d="M238.5 760.0L239.5 759.0L240.5 756.1L241.5 751.7L242.5 745.8L243.5 738.8L244.5 729.3L245.5 709.0L246.5 680.3L247.5 647.6L248.5 614.9L249.5 585.2L250.5 553.4L251.5 520.5L252.5 489.0L253.5 461.5L254.5 438.9L255.5 416.5L256.5 401.3L257.5 406.3L258.5 450.0L259.5 500.0L260.5 540.6L261.5 580.7L262.5 618.6L263.5 654.7L264.5 689.7L265.5 724.6L266.5 760.1L267.5 793.3L268.5 822.1L269.5 850.4L270.5 875.8L271.5 894.4L272.5 904.0L273.5 911.6L274.5 918.6L275.5 925.0L276.5 930.9L277.5 936.1L278.5 940.7L279.5 944.7L280.5 948.1L281.5 950.8L282.5 952.8L283.5 954.2L284.5 954.9L285.5 954.9L286.5 954.1L287.5 952.7L288.5 950.6L289.5 948.1L290.5 945.2L291.5 942.0L292.5 938.6L293.5 935.1L294.5 931.7L295.5 928.3L296.5 924.6L297.5 920.4L298.5 915.6L299.5 910.1L300.5 903.4L301.5 894.0L302.5 882.9L303.5 871.5L304.5 861.1L305.5 852.8L306.5 845.6L307.5 839.2L308.5 833.4L309.5 828.1L310.5 823.2L311.5 819.0L314.0 811.6L316.5 805.9L319.0 802.7L321.5 800.3L324.0 798.5L326.5 797.3L329.0 796.1L331.5 795.0L334.0 793.9L336.5 792.8L339.0 791.9L341.5 791.0L344.0 790.1L346.5 789.1L349.0 787.8L351.5 785.9L354.0 783.3L356.5 780.3L359.0 777.1L361.5 774.1L364.0 771.3L366.5 768.4L369.0 765.4L371.5 762.3L374.0 759.0L376.5 754.7L379.0 749.2L381.5 743.2L384.0 737.2L386.5 731.9L389.0 727.2L391.5 722.6L394.0 718.2L396.5 714.1L399.0 710.7L401.5 707.8L404.0 705.1L406.5 702.4L409.0 699.6L411.5 696.9L414.0 694.2L416.5 691.5L419.0 688.7L421.5 686.0L424.0 683.3L426.5 680.8L429.0 678.5L431.5 676.6L434.0 674.8L436.5 673.2L439.0 671.8L441.5 670.5L444.0 669.3L446.5 668.4L449.0 667.6L451.5 667.0L454.0 666.4L456.5 666.0L459.0 665.6L461.5 665.3L464.0 665.2L466.5 665.0L469.0 664.9L471.5 664.8L474.0 664.7L476.5 664.7L479.0 664.6L481.5 664.6L484.0 664.6L486.5 664.5L489.0 664.5L491.5 664.6L494.0 664.6L496.5 664.6L499.0 664.7L501.5 664.8L504.0 664.9L506.5 665.1L509.0 665.3L511.5 665.6L514.0 665.8L516.5 666.1L519.0 666.5L520.0 666.6L526.0 667.7L532.0 668.9L538.0 670.2L544.0 671.6L550.0 672.9L556.0 674.2L562.0 675.5L568.0 676.8L574.0 678.1L580.0 679.4L586.0 680.7L592.0 682.0L598.0 683.3L604.0 684.6L610.0 685.9L616.0 687.3L622.0 688.7L628.0 690.0L634.0 691.4L640.0 692.8L646.0 694.2L652.0 695.5L658.0 696.9L664.0 698.2L670.0 699.5L676.0 700.8L682.0 702.1L688.0 703.4L694.0 704.6L700.0 705.8L706.0 706.9L712.0 708.1L718.0 709.2L724.0 710.2L730.0 711.2L736.0 712.2L742.0 713.1L748.0 714.0L754.0 714.8L760.0 715.6L766.0 716.3L772.0 717.0L778.0 717.6L784.0 718.2L790.0 718.7L796.0 719.2L802.0 719.7L808.0 720.1L814.0 720.5L820.0 720.8L826.0 721.1L832.0 721.4L838.0 721.6L844.0 721.8L850.0 721.9L856.0 722.0L862.0 722.1L868.0 722.1L874.0 722.1L880.0 722.1L886.0 722.0L892.0 721.9L898.0 721.8L904.0 721.7L910.0 721.5L916.0 721.3L922.0 721.1L928.0 720.8L934.0 720.5L940.0 720.2L946.0 719.9L952.0 719.5L958.0 719.2L964.0 718.8L970.0 718.3L976.0 717.9L982.0 717.4L988.0 716.9L994.0 716.4L1000.0 715.9L1006.0 715.3L1012.0 714.8L1018.0 714.2L1024.0 713.6L1030.0 712.9L1036.0 712.3L1042.0 711.6L1048.0 710.9L1054.0 710.2L1060.0 709.4L1066.0 708.7L1072.0 707.9L1078.0 707.1L1084.0 706.3L1090.0 705.5L1096.0 704.6L1102.0 703.8L1108.0 702.9L1114.0 702.0L1120.0 701.1L1126.0 700.2L1132.0 699.2L1138.0 698.3L1144.0 697.3L1150.0 696.3L1156.0 695.3L1162.0 694.3L1168.0 693.2L1174.0 692.2L1180.0 691.1L1186.0 690.0L1192.0 688.9L1198.0 687.8L1204.0 686.7L1210.0 685.6L1216.0 684.4L1222.0 683.3L1228.0 682.1L1234.0 680.9L1240.0 679.7L1246.0 678.5L1252.0 677.3L1258.0 676.1L1264.0 674.8L1270.0 673.6L1276.0 672.3L1282.0 671.0L1288.0 669.8L1294.0 668.5L1300.0 667.2L1306.0 665.9L1312.0 664.6L1318.0 663.2L1324.0 661.9L1330.0 660.6L1336.0 659.2L1342.0 657.9L1348.0 656.5L1354.0 655.2L1360.0 653.9L1366.0 652.5L1372.0 651.2L1378.0 649.9L1384.0 648.5L1390.0 647.2L1396.0 645.9L1402.0 644.6L1408.0 643.3L1414.0 642.1L1420.0 640.8L1426.0 639.6L1432.0 638.4L1438.0 637.2L1444.0 636.0L1450.0 634.8L1456.0 633.7L1462.0 632.6L1468.0 631.5L1474.0 630.4L1480.0 629.4L1486.0 628.4L1492.0 627.4L1498.0 626.5L1504.0 625.6L1510.0 624.7L1516.0 623.8L1522.0 623.0L1528.0 622.3L1534.0 621.6L1540.0 620.9L1546.0 620.2L1552.0 619.6L1558.0 619.1L1564.0 618.6L1570.0 618.2L1576.0 617.9L1582.0 617.6L1588.0 617.5L1594.0 617.4L1600.0 617.5L1606.0 617.7L1612.0 618.0L1618.0 618.4L1624.0 618.9L1630.0 619.5L1636.0 620.3L1642.0 621.0L1648.0 621.9L1654.0 622.8L1660.0 623.8L1666.0 624.9L1672.0 626.0L1678.0 627.1L1684.0 628.4L1690.0 629.6L1696.0 631.0L1702.0 632.3L1708.0 633.7L1714.0 635.2L1720.0 636.7L1726.0 638.3L1732.0 639.9L1738.0 641.5L1744.0 643.2L1750.0 644.9L1756.0 646.6L1762.0 648.4L1768.0 650.2L1774.0 652.0L1780.0 653.8L1786.0 655.7L1792.0 657.6L1798.0 659.5L1804.0 661.5L1810.0 663.4L1816.0 665.4L1822.0 667.4L1828.0 669.4L1834.0 671.4L1840.0 673.4L1846.0 675.4L1852.0 677.4L1858.0 679.5L1864.0 681.5L1870.0 683.5L1876.0 685.6L1882.0 687.6L1888.0 689.6L1894.0 691.6L1900.0 693.6L1906.0 695.6L1912.0 697.6L1918.0 699.6L1924.0 701.5L1930.0 703.4L1936.0 705.3L1942.0 707.2L1948.0 709.1L1954.0 710.9L1960.0 712.7L1960.4 712.9" stroke="#6aa81e" stroke-width="5.2"/>
<path d="M238.5 1090.0L239.5 1102.4L240.5 1115.4L241.5 1128.9L242.5 1142.8L243.5 1158.1L244.5 1177.7L245.5 1198.5L246.5 1216.5L247.5 1227.4L248.5 1224.8L249.5 1196.9L250.5 1155.4L251.5 1115.1L252.5 1088.0L253.5 1066.4L254.5 1046.9L255.5 1028.5L256.5 1009.8L257.5 989.9L258.5 969.2L259.5 948.4L260.5 928.1L261.5 909.0L262.5 890.9L263.5 870.9L264.5 850.6L265.5 832.0L266.5 817.5L267.5 809.1L268.5 809.1L269.5 816.8L270.5 830.2L271.5 847.0L272.5 864.9L273.5 881.7L274.5 895.2L275.5 903.8L276.5 910.4L277.5 915.8L278.5 920.4L279.5 924.5L280.5 928.6L281.5 933.1L282.5 938.1L283.5 944.2L284.5 951.6L285.5 961.8L286.5 979.4L287.5 1001.4L288.5 1024.0L289.5 1043.0L290.5 1055.6L291.5 1065.3L292.5 1073.6L293.5 1081.1L294.5 1088.4L295.5 1095.9L296.5 1104.4L297.5 1113.6L298.5 1122.7L299.5 1130.7L300.5 1137.0L301.5 1142.5L302.5 1147.3L303.5 1151.2L304.5 1154.1L305.5 1156.5L306.5 1158.6L307.5 1159.8L307.7 1160.0L310.2 1161.0L312.7 1160.6L315.2 1158.8L317.7 1153.8L320.2 1149.9L322.7 1148.5L325.2 1147.8L327.7 1147.6L330.2 1148.1L332.7 1148.7L335.2 1149.5L337.7 1150.8L340.2 1152.9L342.7 1155.6L345.2 1158.5L347.7 1161.3L350.2 1163.9L352.7 1166.4L355.2 1168.9L357.7 1171.3L360.2 1173.7L362.7 1176.0L365.2 1178.1L367.7 1180.1L370.2 1181.8L372.7 1183.3L375.2 1184.6L377.7 1185.5L380.2 1186.1L382.7 1186.4L385.2 1186.5L387.7 1186.5L390.2 1186.2L392.7 1185.8L395.2 1185.2L397.7 1184.5L400.2 1183.5L402.7 1182.5L405.2 1181.3L407.7 1179.8L410.2 1177.9L412.7 1175.6L415.2 1173.1L417.7 1170.5L420.2 1167.8L422.7 1165.3L425.2 1162.9L427.7 1160.5L430.2 1158.1L432.7 1155.7L435.2 1153.3L437.7 1150.9L440.2 1148.6L442.7 1146.3L445.2 1144.0L447.7 1141.7L450.2 1139.5L452.7 1137.2L455.2 1135.0L457.7 1132.8L460.2 1130.6L462.7 1128.4L465.2 1126.2L467.7 1124.1L470.2 1121.9L472.7 1119.8L475.2 1117.7L477.7 1115.7L480.2 1113.6L482.7 1111.6L485.2 1109.7L487.7 1107.8L490.2 1106.0L492.7 1104.2L495.2 1102.5L497.7 1100.9L500.2 1099.3L502.7 1097.8L505.2 1096.4L507.7 1095.0L510.2 1093.7L512.7 1092.5L515.2 1091.3L517.7 1090.2L520.0 1089.2L526.0 1086.6L532.0 1084.0L538.0 1081.3L544.0 1078.7L550.0 1076.1L556.0 1073.5L562.0 1070.8L568.0 1068.3L574.0 1065.9L580.0 1064.0L586.0 1062.3L592.0 1060.8L598.0 1059.3L604.0 1057.7L610.0 1056.2L616.0 1054.8L622.0 1053.5L628.0 1052.4L634.0 1051.4L640.0 1050.4L646.0 1049.6L652.0 1048.9L658.0 1048.2L664.0 1047.7L670.0 1047.2L676.0 1046.8L682.0 1046.5L688.0 1046.2L694.0 1046.0L700.0 1045.9L706.0 1045.9L712.0 1045.9L718.0 1045.9L724.0 1046.0L730.0 1046.2L736.0 1046.4L742.0 1046.6L748.0 1046.9L754.0 1047.2L760.0 1047.6L766.0 1048.0L772.0 1048.4L778.0 1048.8L784.0 1049.2L790.0 1049.7L796.0 1050.2L802.0 1050.7L808.0 1051.2L814.0 1051.7L820.0 1052.2L826.0 1052.7L832.0 1053.2L838.0 1053.7L844.0 1054.2L850.0 1054.7L856.0 1055.1L862.0 1055.6L868.0 1056.1L874.0 1056.6L880.0 1057.0L886.0 1057.5L892.0 1057.9L898.0 1058.4L904.0 1058.8L910.0 1059.3L916.0 1059.7L922.0 1060.1L928.0 1060.5L934.0 1060.9L940.0 1061.3L946.0 1061.7L952.0 1062.1L958.0 1062.4L964.0 1062.8L970.0 1063.1L976.0 1063.5L982.0 1063.8L988.0 1064.1L994.0 1064.4L1000.0 1064.7L1006.0 1065.0L1012.0 1065.3L1018.0 1065.5L1024.0 1065.8L1030.0 1066.0L1036.0 1066.2L1042.0 1066.4L1048.0 1066.6L1054.0 1066.8L1060.0 1066.9L1066.0 1067.1L1072.0 1067.2L1078.0 1067.3L1084.0 1067.4L1090.0 1067.5L1096.0 1067.5L1102.0 1067.6L1108.0 1067.6L1114.0 1067.6L1120.0 1067.6L1126.0 1067.6L1132.0 1067.6L1138.0 1067.5L1144.0 1067.4L1150.0 1067.3L1156.0 1067.2L1162.0 1067.1L1168.0 1066.9L1174.0 1066.7L1180.0 1066.5L1186.0 1066.3L1192.0 1066.0L1198.0 1065.8L1204.0 1065.5L1210.0 1065.2L1216.0 1064.8L1222.0 1064.5L1228.0 1064.1L1234.0 1063.7L1240.0 1063.3L1246.0 1062.8L1252.0 1062.3L1258.0 1061.8L1264.0 1061.3L1270.0 1060.7L1276.0 1060.2L1282.0 1059.5L1288.0 1058.9L1294.0 1058.2L1300.0 1057.5L1306.0 1056.8L1312.0 1056.1L1318.0 1055.3L1324.0 1054.5L1330.0 1053.7L1336.0 1052.8L1342.0 1051.9L1348.0 1051.0L1354.0 1050.0L1360.0 1049.0L1366.0 1048.0L1372.0 1046.9L1378.0 1045.8L1384.0 1044.7L1390.0 1043.6L1396.0 1042.4L1402.0 1041.1L1408.0 1039.8L1414.0 1038.5L1420.0 1037.1L1426.0 1035.7L1432.0 1034.2L1438.0 1032.7L1444.0 1031.1L1450.0 1029.5L1456.0 1027.8L1462.0 1026.0L1468.0 1024.2L1474.0 1022.3L1480.0 1020.4L1486.0 1018.4L1492.0 1016.3L1498.0 1014.1L1504.0 1011.9L1510.0 1009.6L1516.0 1007.3L1522.0 1004.9L1528.0 1002.4L1534.0 999.9L1540.0 997.3L1546.0 994.7L1552.0 992.0L1558.0 989.3L1564.0 986.6L1570.0 983.8L1576.0 981.1L1582.0 978.2L1588.0 975.4L1594.0 972.6L1600.0 969.7L1606.0 966.8L1612.0 964.0L1618.0 961.1L1624.0 958.2L1630.0 955.3L1636.0 952.4L1642.0 949.6L1648.0 946.7L1654.0 943.9L1660.0 941.1L1666.0 938.3L1672.0 935.5L1678.0 932.8L1684.0 930.1L1690.0 927.4L1696.0 924.7L1702.0 922.1L1708.0 919.5L1714.0 917.0L1720.0 914.5L1726.0 912.0L1732.0 909.6L1738.0 907.2L1744.0 904.9L1750.0 902.6L1756.0 900.4L1762.0 898.3L1768.0 896.1L1774.0 894.1L1780.0 892.1L1786.0 890.2L1792.0 888.3L1798.0 886.5L1804.0 884.8L1810.0 883.2L1816.0 881.6L1822.0 880.1L1828.0 878.6L1834.0 877.2L1840.0 875.9L1846.0 874.7L1852.0 873.5L1858.0 872.4L1864.0 871.3L1870.0 870.3L1876.0 869.4L1882.0 868.6L1888.0 867.8L1894.0 867.0L1900.0 866.4L1906.0 865.8L1912.0 865.2L1918.0 864.8L1924.0 864.3L1930.0 864.0L1936.0 863.7L1942.0 863.5L1948.0 863.3L1954.0 863.2L1960.0 863.1L1960.4 863.1" stroke="#6aa81e" stroke-width="5.2"/>
</g>
<path d="M245.5 741.8 H1946.0" stroke="#1c1c1c" stroke-width="6.7" stroke-dasharray="29.5 24.4" stroke-dashoffset="0" fill="none"/>
<path d="M250.0 1087.7 H1950.0" stroke="#ff1010" stroke-width="6.7" stroke-dasharray="29.5 24.5" stroke-dashoffset="0" fill="none"/>
<text class="tk" x="205.5" y="66.4" text-anchor="end">3.0</text>
<text class="tk" x="205.5" y="237.6" text-anchor="end">2.5</text>
<text class="tk" x="205.5" y="411.6" text-anchor="end">2.0</text>
<text class="tk" x="205.5" y="585.5" text-anchor="end">1.5</text>
<text class="tk" x="205.5" y="759.5" text-anchor="end">1.0</text>
<text class="tk" x="205.5" y="933.4" text-anchor="end">0.5</text>
<text class="tk" x="205.5" y="1107.4" text-anchor="end">0.0</text>
<text class="tk" x="205.5" y="1281.4" text-anchor="end">-0.5</text>
<text class="tk" x="205.5" y="1455.3" text-anchor="end">-1.0</text>
<text class="tk" x="356.4" y="1515.1" text-anchor="middle">500</text>
<text class="tk" x="653.4" y="1515.1" text-anchor="middle">1000</text>
<text class="tk" x="950.3" y="1515.1" text-anchor="middle">1500</text>
<text class="tk" x="1247.3" y="1515.1" text-anchor="middle">2000</text>
<text class="tk" x="1544.2" y="1515.1" text-anchor="middle">2500</text>
<text class="tk" x="1841.2" y="1515.1" text-anchor="middle">3000</text>
<text class="ax" font-size="98.2" transform="translate(1099.0 1609.0) scale(1 1.0270)" text-anchor="middle">Wavelength (nm)</text>
<text class="ax" font-size="98.1" transform="translate(89.5 741.5) rotate(-90) scale(1 1.0350)" text-anchor="middle">Impedance</text>
<text font-size="72.4" x="793.0" y="835.4" fill="#1a1a1a" stroke="#1a1a1a" stroke-width="0.8">Real part</text>
<text font-size="72.4" x="751.6" y="1187.0" fill="#ff0000" stroke="#ff0000" stroke-width="0.8">Imaginary part</text>
<rect x="1636.9" y="70.5" width="290.7" height="317.3" fill="#fff" stroke="#777" stroke-width="4"/>
<path d="M1641.0 108.9 H1771.5" stroke="#6a6a6a" stroke-width="6.0" fill="none"/>
<text class="lg" transform="translate(1781.0 125.5) scale(1 1.0500)" text-anchor="start">Al<tspan font-size="44.5" dy="15" dx="-2.2">2</tspan><tspan dy="-15" dx="-2.2">O</tspan><tspan font-size="44.5" dy="15" dx="-2.2">3</tspan></text>
<path d="M1641.0 188.7 H1771.5" stroke="#ff1a1a" stroke-width="6.0" fill="none"/>
<text class="lg" transform="translate(1781.0 208.0) scale(1 1.0500)" text-anchor="start">SiO<tspan font-size="44.5" dy="15" dx="-2.2">2</tspan></text>
<path d="M1641.0 269.8 H1771.5" stroke="#0000ff" stroke-width="6.0" fill="none"/>
<text class="lg" transform="translate(1781.0 288.0) scale(1 1.0500)" text-anchor="start">MgF<tspan font-size="44.5" dy="15" dx="-2.2">2</tspan></text>
<path d="M1641.0 350.0 H1771.5" stroke="#6aa81e" stroke-width="6.0" fill="none"/>
<text class="lg" transform="translate(1781.0 368.5) scale(1 1.0500)" text-anchor="start">None</text>
</g>
</svg>
</body></html>
